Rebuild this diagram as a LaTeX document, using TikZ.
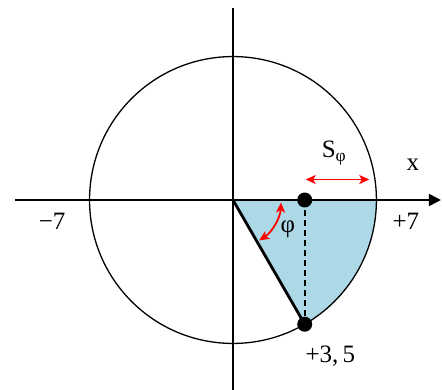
\documentclass[tikz,border=0pt]{standalone}
\usepackage{fontspec}
\setmainfont{Liberation Serif}
\usepackage{tikz}
\usetikzlibrary{arrows.meta, positioning, calc}

\definecolor{sectorblue}{RGB}{173,216,230}

\begin{document}
\begin{tikzpicture}[
    x=20.5pt, y=20.5pt,
    % Styles for the nodes
    label_node/.style={inner sep=0pt, font=\fontsize{25}{28}\selectfont},
    dot_node/.style={circle, fill=black, inner sep=0pt, minimum size=15pt},
    % Styles for lines and arrows
    axis/.style={line width=1.7pt},
    axis_arrow/.style={axis, -{Triangle[length=12pt, width=12pt]}},
    red_arrow/.style={{Stealth[length=10pt, width=9pt, inset=2.5pt]}-{Stealth[length=10pt, width=9pt, inset=2.5pt]}, red, line width=1.8pt},
    radius_line/.style={line width=2.8pt},
    proj_line/.style={line width=1.6pt, dash pattern=on 6pt off 4pt}
]
    \useasboundingbox (-11.37,-9.27) rectangle (10.2,9.76);

    % =========================================================================
    % POINTS
    % =========================================================================
    \coordinate (origin) at (0,0);
    \coordinate (right_end) at (7,0);
    \coordinate (x_left) at (-10.63,0);
    \coordinate (x_right) at (10.15,0);
    \coordinate (y_top) at (0,9.37);
    \coordinate (y_bottom) at (0,-9.4);

    % Shaded sector below the x axis
    \fill [sectorblue] (origin) -- (right_end) arc (0:-60:7) -- cycle;

    % Circle and axes
    \draw [line width=1.3pt] (origin) circle (7);
    \draw [axis] (y_bottom) -- (y_top);
    \draw [axis_arrow] (x_left) -- (x_right);

    % =========================================================================
    % POINT ON THE AXIS AND POINT ON THE CIRCLE
    % =========================================================================
    \node (foot_dot) [dot_node] at (3.5,0) {};
    \node (arc_dot) [dot_node] at (-60:7) {};
    \draw [radius_line] (origin) -- (arc_dot.center);
    \draw [proj_line] (foot_dot.center) -- (arc_dot.center);

    % =========================================================================
    % RED MEASURES
    % =========================================================================
    \coordinate (s_left) at (3.55,1);
    \coordinate (s_right) at (6.65,1);
    \draw [red_arrow] (s_left) -- (s_right);
    \draw [red_arrow] ($(origin)+(-3:2.35)$) arc (-3:-57:2.35);

    % =========================================================================
    % LABELS
    % =========================================================================
    \node (lbl_minus) [label_node] at (-8.83,-1.05) {−7};
    \node (lbl_plus) [label_node] at (8.44,-1.05) {+7};
    \node (lbl_x) [label_node] at (8.78,1.7) {x};
    \node (lbl_s) [label_node] at (4.93,2.3) {S\textsubscript{φ}};
    \node (lbl_phi) [label_node] at (2.68,-1.45) {φ};
    \node (lbl_point) [label_node] at (4.75,-7.6) {+3,\,5};

\end{tikzpicture}
\end{document}
